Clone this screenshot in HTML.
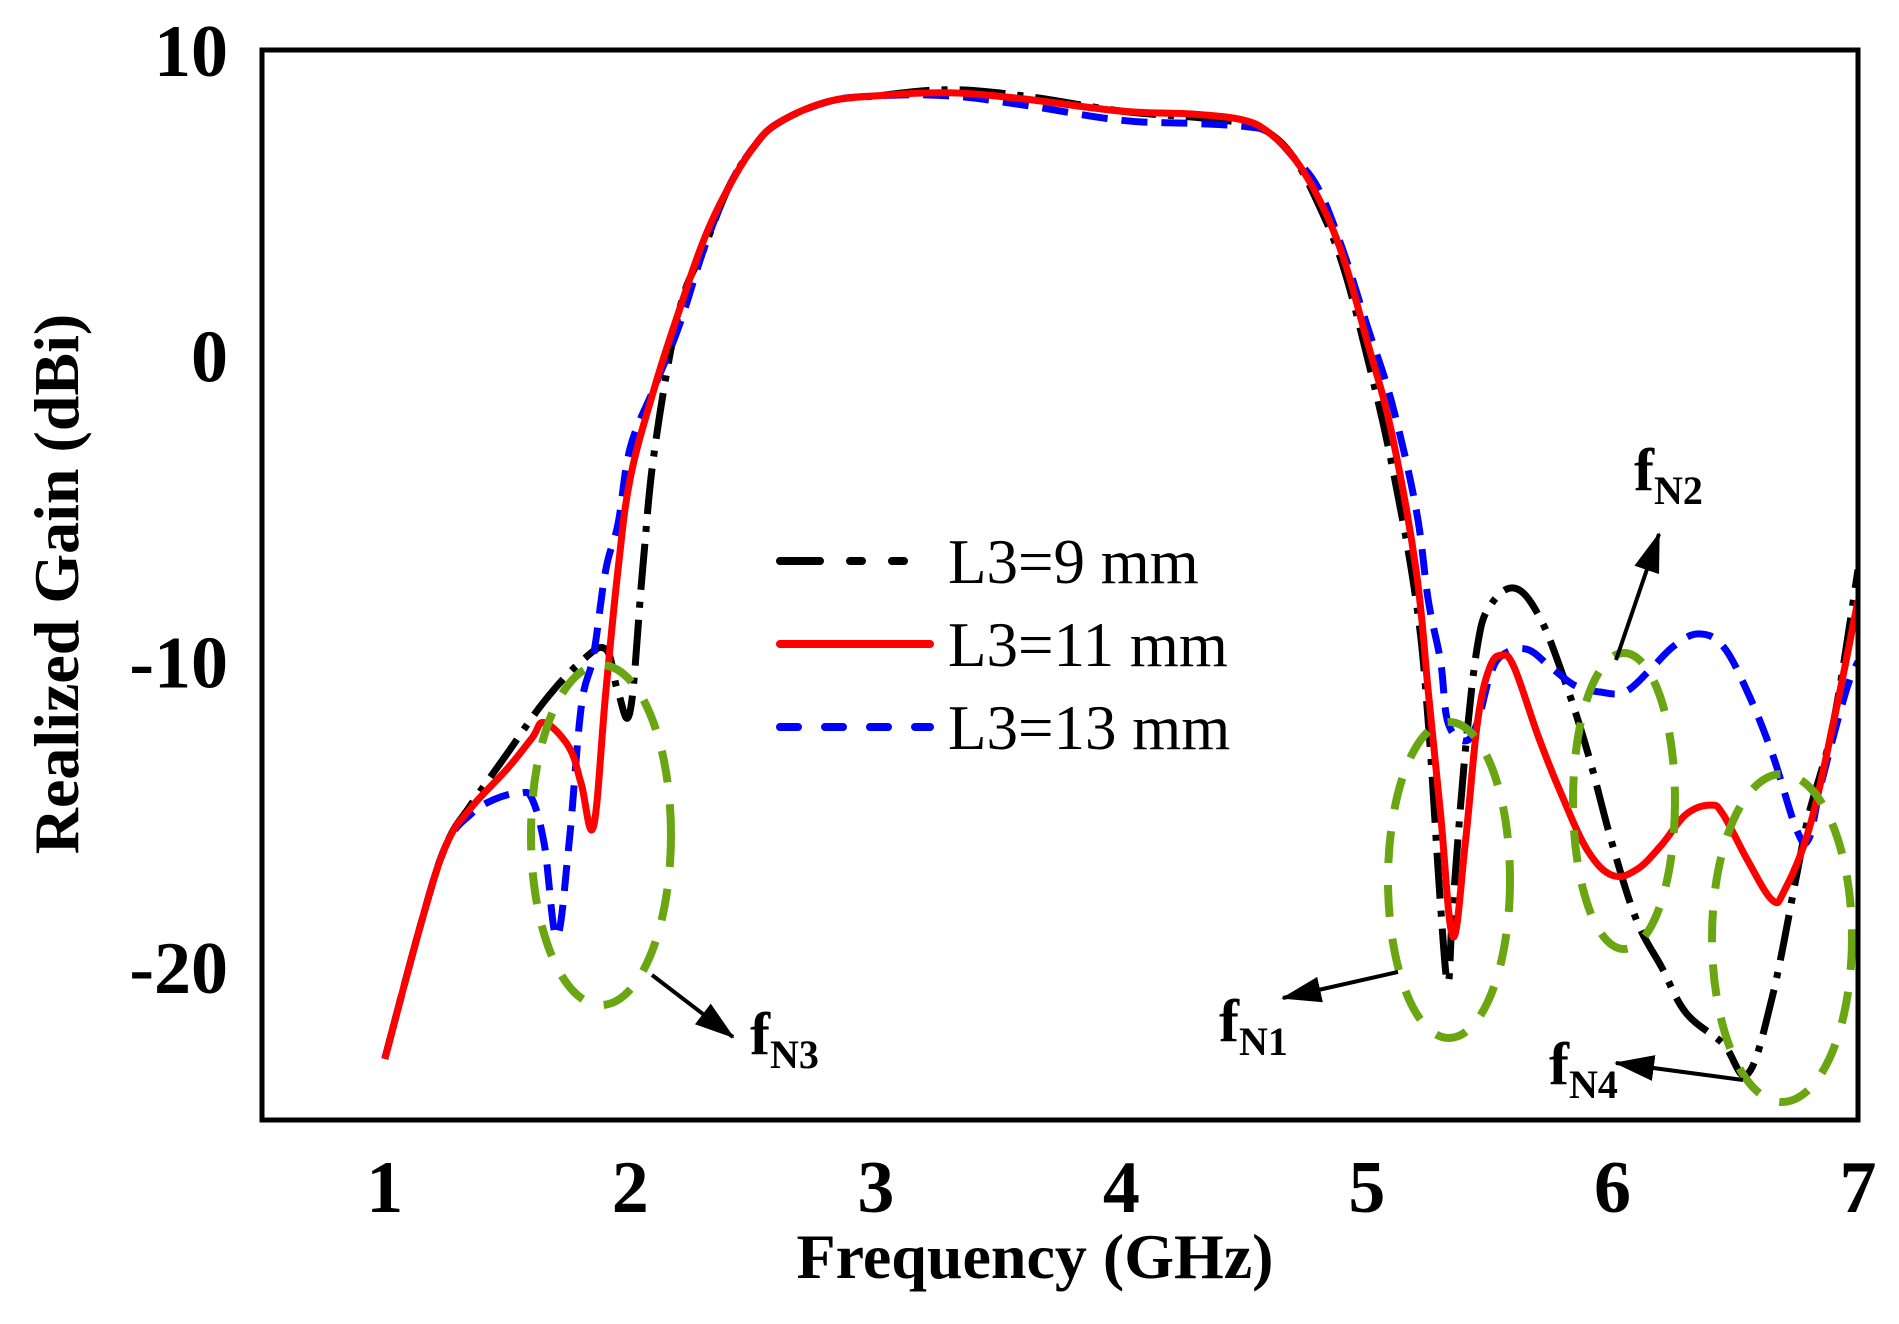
<!DOCTYPE html>
<html><head><meta charset="utf-8"><style>
html,body{margin:0;padding:0;background:#fff;}
svg{display:block;}
text{font-family:"Liberation Serif",serif;}
</style></head><body>
<svg id="chart" width="1899" height="1324" viewBox="0 0 1899 1324" xmlns="http://www.w3.org/2000/svg">
<defs><clipPath id="pc"><rect x="262" y="50" width="1596" height="1070"/></clipPath>
<marker id="ahb" markerWidth="40" markerHeight="26" refX="38" refY="13" orient="auto" markerUnits="userSpaceOnUse"><path d="M0,0 L40,13 L0,26 z" fill="#000"/></marker>
</defs>
<g id="series" clip-path="url(#pc)"></g>
<g id="ellipses"></g>
<rect x="262" y="50" width="1596" height="1070" fill="none" stroke="#000" stroke-width="5"/>
<g id="ticks"></g>
<text x="1035" y="1278" font-size="64" font-weight="bold" text-anchor="middle">Frequency (GHz)</text>
<text transform="translate(78,584) rotate(-90)" font-size="64" font-weight="bold" text-anchor="middle">Realized Gain (dBi)</text>
<g>
<line x1="780" y1="561" x2="930" y2="561" stroke="#000" stroke-width="8" stroke-linecap="round" stroke-dasharray="40,30,12,30,12,30,6,30"/>
<text x="948" y="583" font-size="63">L3=9 mm</text>
<line x1="780" y1="644" x2="930" y2="644" stroke="#f00" stroke-width="8" stroke-linecap="round"/>
<text x="948" y="666" font-size="63">L3=11 mm</text>
<line x1="780" y1="727" x2="930" y2="727" stroke="#00f" stroke-width="8" stroke-linecap="round" stroke-dasharray="18,27"/>
<text x="948" y="749" font-size="63">L3=13 mm</text>
</g>
<g font-weight="bold">
<line x1="652" y1="975" x2="733" y2="1037" stroke="#000" stroke-width="4" marker-end="url(#ahb)"/>
<text x="750" y="1054" font-size="60">f<tspan font-size="40" dy="14">N3</tspan></text>
<line x1="1398" y1="972" x2="1283" y2="998" stroke="#000" stroke-width="4" marker-end="url(#ahb)"/>
<text x="1219" y="1041" font-size="60">f<tspan font-size="40" dy="14">N1</tspan></text>
<line x1="1616" y1="660" x2="1659" y2="534" stroke="#000" stroke-width="4" marker-end="url(#ahb)"/>
<text x="1634" y="490" font-size="60">f<tspan font-size="40" dy="14">N2</tspan></text>
<line x1="1743" y1="1080" x2="1616" y2="1063" stroke="#000" stroke-width="4" marker-end="url(#ahb)"/>
<text x="1549" y="1084" font-size="60">f<tspan font-size="40" dy="14">N4</tspan></text>
</g>
</svg>
<script>
const freqBlack=[1.0,1.15,1.25,1.35,1.5,1.65,1.8,1.9,1.95,2.0,2.05,2.1,2.2,2.3,2.4,2.5,2.6,2.8,3.0,3.3,3.6,4.0,4.3,4.5,4.6,4.7,4.8,4.9,5.0,5.1,5.2,5.25,5.3,5.33,5.35,5.4,5.45,5.5,5.6,5.7,5.8,5.9,6.0,6.1,6.2,6.3,6.45,6.55,6.65,6.75,6.8,6.9,7.0];
const gainBlack=[-23,-18.5,-16,-14.7,-13,-11.3,-10,-9.6,-11,-11.6,-7,-3,1.5,3.5,5.5,6.8,7.6,8.3,8.5,8.7,8.5,8.0,7.8,7.6,7.3,6.5,5,3,0,-3.5,-8,-12,-18,-20.5,-18,-13,-9.5,-8.2,-7.6,-8.5,-10.5,-13,-16,-18.5,-20,-21.5,-22.5,-23.5,-21,-17,-15,-12,-7];
const freqRed=[1.0,1.15,1.25,1.35,1.5,1.6,1.65,1.75,1.8,1.85,1.9,1.95,2.0,2.1,2.2,2.3,2.4,2.5,2.6,2.8,3.0,3.3,3.6,4.0,4.3,4.5,4.6,4.7,4.8,4.9,5.0,5.1,5.2,5.25,5.3,5.35,5.4,5.45,5.5,5.55,5.6,5.7,5.8,5.9,6.0,6.1,6.2,6.3,6.4,6.45,6.55,6.65,6.7,6.8,6.9,7.0];
const gainRed=[-23,-18.5,-16,-14.8,-13.5,-12.5,-12,-12.8,-14,-15.4,-11,-7,-4,-1,1.5,3.8,5.5,6.8,7.6,8.3,8.5,8.6,8.4,8.0,7.9,7.7,7.3,6.5,5.2,3.3,0.5,-2.5,-7,-11,-15,-19,-16,-12,-10.2,-9.8,-10.2,-12.5,-14.5,-16.2,-17,-16.8,-16,-15,-14.7,-15,-16.5,-17.8,-17.5,-15.5,-12,-8];
const freqBlue=[1.0,1.15,1.25,1.35,1.45,1.55,1.6,1.65,1.7,1.75,1.8,1.85,1.9,1.95,2.0,2.1,2.2,2.3,2.4,2.5,2.6,2.8,3.0,3.3,3.6,4.0,4.3,4.5,4.6,4.7,4.8,4.9,5.0,5.1,5.2,5.25,5.3,5.33,5.4,5.45,5.5,5.55,5.65,5.75,5.85,5.95,6.05,6.15,6.25,6.35,6.45,6.55,6.65,6.75,6.8,6.85,6.95,7.0];
const gainBlue=[-23,-18.5,-16,-15,-14.5,-14.3,-14.5,-16,-19,-16,-11.5,-9.8,-7,-5.5,-3,-1,1,3.5,5.5,6.8,7.6,8.3,8.5,8.5,8.2,7.7,7.6,7.5,7.3,6.5,5.5,3.5,1,-1.5,-5,-8,-10,-12,-12.6,-12,-10.5,-9.8,-9.6,-10.2,-10.8,-11,-11,-10.3,-9.5,-9.1,-9.5,-11,-13,-15.5,-15.8,-14,-11,-10];
const xTicks=[1,2,3,4,5,6,7];
const yTicks=[10,0,-10,-20];

const X0=262,X1=1858,Y0=50,Y1=1120,FMIN=0.5,FMAX=7,GMIN=-25,GMAX=10;
function xs(f){return X0+(f-FMIN)/(FMAX-FMIN)*(X1-X0);}
function ys(g){return Y1-(g-GMIN)/(GMAX-GMIN)*(Y1-Y0);}
const NS='http://www.w3.org/2000/svg';
function smoothPath(fs,gs){
  const p=fs.map((f,i)=>[xs(f),ys(gs[i])]);
  let d='M'+p[0][0].toFixed(1)+','+p[0][1].toFixed(1);
  for(let i=0;i<p.length-1;i++){
    const p0=p[Math.max(0,i-1)],p1=p[i],p2=p[i+1],p3=p[Math.min(p.length-1,i+2)];
    const t=0.18;
    const c1=[p1[0]+(p2[0]-p0[0])*t,p1[1]+(p2[1]-p0[1])*t];
    const c2=[p2[0]-(p3[0]-p1[0])*t,p2[1]-(p3[1]-p1[1])*t];
    d+=' C'+c1.map(v=>v.toFixed(1)).join(',')+' '+c2.map(v=>v.toFixed(1)).join(',')+' '+p2.map(v=>v.toFixed(1)).join(',');
  }
  return d;
}
const sg=document.getElementById('series');
function addSeries(fs,gs,color,dash,name){
  const el=document.createElementNS(NS,'path');
  el.setAttribute('d',smoothPath(fs,gs));
  el.setAttribute('fill','none');
  el.setAttribute('stroke',color);
  el.setAttribute('stroke-width','7');
  el.setAttribute('stroke-linejoin','round');
  if(dash)el.setAttribute('stroke-dasharray',dash);
  
  
  sg.appendChild(el);
}
addSeries(freqBlack,gainBlack,'#000','46,12,6,12','series-l3-9mm');
addSeries(freqBlue,gainBlue,'#0000ff','26,14','series-l3-13mm');
addSeries(freqRed,gainRed,'#ff0000',null,'series-l3-11mm');

const eg=document.getElementById('ellipses');
const ells=[[601,835,70,170,'ellipse-fn3'],[1449,880,61,158,'ellipse-fn1'],[1624,801,51,148,'ellipse-fn2'],[1782,938,70,164,'ellipse-fn4']];
ells.forEach(e=>{
  const el=document.createElementNS(NS,'ellipse');
  el.setAttribute('cx',e[0]);el.setAttribute('cy',e[1]);el.setAttribute('rx',e[2]);el.setAttribute('ry',e[3]);
  el.setAttribute('fill','none');el.setAttribute('stroke','#6aa612');el.setAttribute('stroke-width','8');el.setAttribute('stroke-dasharray','32,22');
  
  
  eg.appendChild(el);
});

const tg=document.getElementById('ticks');
xTicks.forEach(v=>{
  const t=document.createElementNS(NS,'text');
  t.setAttribute('x',xs(v));t.setAttribute('y',1212);
  t.setAttribute('font-size','74');t.setAttribute('font-weight','bold');t.setAttribute('text-anchor','middle');
  t.textContent=v;
  
  
  tg.appendChild(t);
});
yTicks.forEach(v=>{
  const t=document.createElementNS(NS,'text');
  t.setAttribute('x',228);t.setAttribute('y',ys(v)+26);
  t.setAttribute('font-size','74');t.setAttribute('font-weight','bold');t.setAttribute('text-anchor','end');
  t.textContent=v;
  
  
  tg.appendChild(t);
});
</script>
</body></html>
